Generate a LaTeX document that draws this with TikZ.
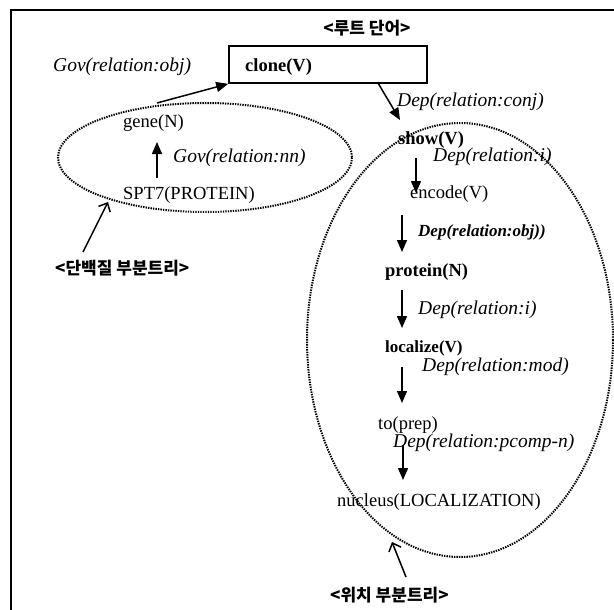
\documentclass[tikz,border=0pt]{standalone}
\usepackage{fontspec}
\setmainfont{Liberation Serif}
\newfontfamily\krfont{Noto Sans CJK KR}
\usetikzlibrary{arrows.meta}
\tikzset{
  lab/.style={inner sep=0pt, anchor=west, font=\fontsize{18.5}{20}\selectfont},
  blab/.style={lab, font=\fontsize{18.5}{20}\selectfont\bfseries},
  rel/.style={lab, font=\fontsize{19.5}{21}\selectfont\itshape},
  kor/.style={lab, font=\krfont\bfseries\fontsize{17}{19}\selectfont},
  arr/.style={line width=1.5pt, -{Triangle[length=12pt,width=10pt]}},
  ptr/.style={line width=1.5pt, -{Straight Barb[length=7pt,width=13pt,line width=1.5pt]}},
  dotline/.style={line width=2pt, dash pattern=on 1.4pt off 1.1pt},
  boxstyle/.style={draw, line width=1.6pt, inner sep=0pt, minimum width=198pt, minimum height=37pt}
}
\begin{document}
\begin{tikzpicture}[x=1pt,y=-1pt]
\useasboundingbox (0,0) rectangle (614,610);
\begin{scope}
\clip (0,0) rectangle (614,610);
\draw[line width=2.4pt] (11,640) -- (11,10) -- (640,10);
\end{scope}

% ellipses
\draw[dotline] (205,157.5) ellipse [x radius=147, y radius=54.5];
\draw[dotline] (460,340) ellipse [x radius=153, y radius=217];

% root box
\node[boxstyle] (clone) at (328,64.5) {};
\node[blab] (clonet) at (245,67.5) {clone(V)};
\node[kor, anchor=center] (root) at (367,28) {<루트 단어>};
\node[rel] (govobj) at (53,67) {Gov(relation:obj)};

% left subtree
\node[lab] (gene) at (123,123) {gene(N)};
\node[rel] (govnn) at (173,158) {Gov(relation:nn)};
\node[lab] (spt) at (123,195) {SPT7(PROTEIN)};
\node[kor] (lprot) at (55,268) {<단백질 부분트리>};

% right subtree
\node[rel] (depconj) at (397,102) {Dep(relation:conj)};
\node[blab] (show) at (398,140) {show(V)};
\node[rel] (depi1) at (433,157) {Dep(relation:i)};
\node[lab] (encode) at (410,194) {encode(V)};
\node[rel, font=\fontsize{17}{19}\selectfont\itshape\bfseries] (depobj) at (418,232) {Dep(relation:obj))};
\node[blab] (protein) at (385,272) {protein(N)};
\node[rel] (depi2) at (418,310) {Dep(relation:i)};
\node[blab, font=\fontsize{17}{19}\selectfont\bfseries] (localize) at (385,348) {localize(V)};
\node[rel] (depmod) at (422,367) {Dep(relation:mod)};
\node[lab] (to) at (378,425) {to(prep)};
\node[rel] (deppc) at (393,443) {Dep(relation:pcomp-n)};
\node[lab] (nucleus) at (337,502) {nucleus(LOCALIZATION)};
\node[kor] (lloc) at (330,595) {<위치 부분트리>};

% connector end points
\coordinate (geneTop) at (157,103);
\coordinate (sptUp) at (157,178);
\coordinate (geneDn) at (157,142);
\coordinate (cloneOut) at (378,83);
\coordinate (showIn) at (400,120);
\coordinate (showOut) at (416,158);
\coordinate (encodeIn) at (416,193);
\coordinate (encodeOut) at (402,215);
\coordinate (proteinIn) at (402,252);
\coordinate (proteinOut) at (402,290);
\coordinate (localizeIn) at (402,328);
\coordinate (localizeOut) at (402,367);
\coordinate (toIn) at (402,403);
\coordinate (toOut) at (403,445);
\coordinate (nucleusIn) at (403,480);
\coordinate (lprotTip) at (83,252);
\coordinate (lprotEll) at (108,202);
\coordinate (llocTip) at (406,577);
\coordinate (llocEll) at (392,542);

\draw[arr] (geneTop) -- (clone.south west);
\draw[arr] (sptUp) -- (geneDn);
\draw[arr] (cloneOut) -- (showIn);
\draw[arr] (showOut) -- (encodeIn);
\draw[arr] (encodeOut) -- (proteinIn);
\draw[arr] (proteinOut) -- (localizeIn);
\draw[arr] (localizeOut) -- (toIn);
\draw[arr] (toOut) -- (nucleusIn);
\draw[ptr] (lprotTip) -- (lprotEll);
\draw[ptr] (llocTip) -- (llocEll);
\end{tikzpicture}
\end{document}
